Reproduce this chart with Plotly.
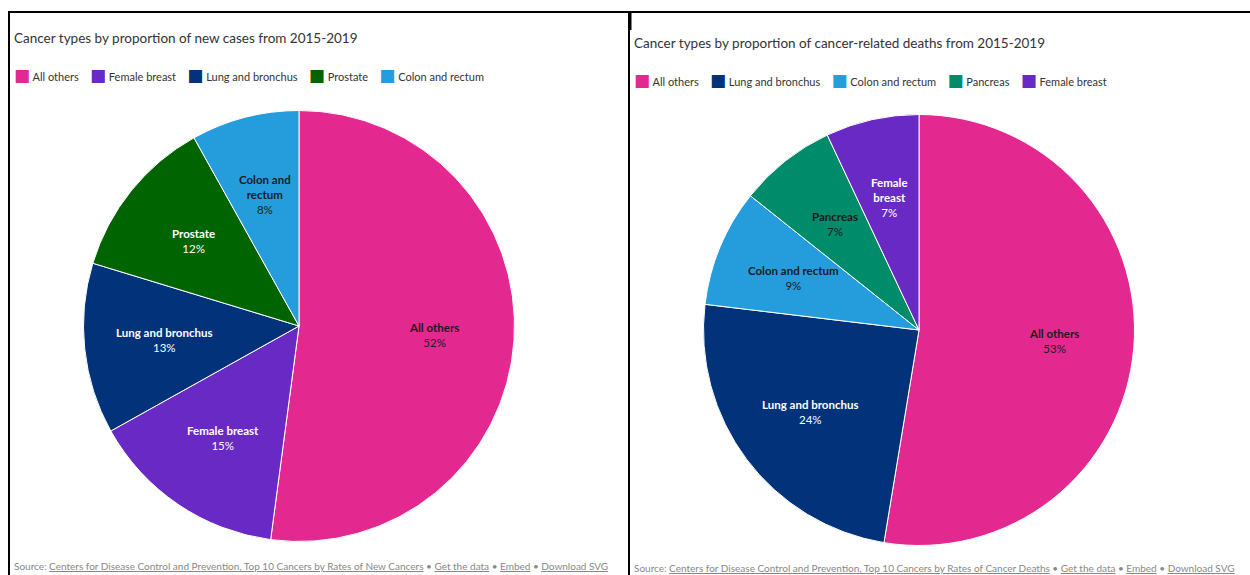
import math
import plotly.graph_objects as go

# ---- data ----
new_labels = ["All others", "Female breast", "Lung and bronchus", "Prostate", "Colon and rectum"]
new_display = ["All others", "Female breast", "Lung and bronchus", "Prostate", "Colon and<br>rectum"]
new_values = [52.1, 14.8, 12.8, 12.2, 8.1]
new_colors = ["#e3298f", "#6929c4", "#01327a", "#006400", "#259ddd"]
new_text_colors = ["#1a1a1a", "#ffffff", "#ffffff", "#ffffff", "#1a1a1a"]

death_labels = ["All others", "Lung and bronchus", "Colon and rectum", "Pancreas", "Female breast"]
death_display = ["All others", "Lung and bronchus", "Colon and rectum", "Pancreas", "Female<br>breast"]
death_values = [52.6, 24.3, 8.8, 7.3, 7.0]
death_colors = ["#e3298f", "#01327a", "#259ddd", "#008c6a", "#6929c4"]
death_text_colors = ["#1a1a1a", "#ffffff", "#1a1a1a", "#1a1a1a", "#ffffff"]

title_left = "Cancer types by proportion of new cases from 2015-2019"
title_right = "Cancer types by proportion of cancer-related deaths from 2015-2019"
source_name_left = "Centers for Disease Control and Prevention, Top 10 Cancers by Rates of New Cancers"
source_name_right = "Centers for Disease Control and Prevention, Top 10 Cancers by Rates of Cancer Deaths"
source_links = ["Get the data", "Embed", "Download SVG"]

FONT = "Lato"
W, H = 1250, 575

# pie geometry (pixels): centre x, centre y, radius
LEFT_PIE = (299, 326, 215.5)
RIGHT_PIE = (919, 330, 215.5)
LABEL_R = 0.63


def px_x(v):
    return v / W


def px_y(v):
    return 1 - v / H


def domain_of(geo):
    cx, cy, r = geo
    return dict(x=[px_x(cx - r), px_x(cx + r)], y=[px_y(cy + r), px_y(cy - r)])


def link(t):
    return ("<span style='text-decoration:underline;text-decoration-color:#a9d5f2'>"
            + t + "</span>")


def source_text(name):
    parts = [link(name)] + [link(t) for t in source_links]
    return "Source: " + " • ".join(parts)


def legend_text(labels, colors):
    items = []
    for lab, col in zip(labels, colors):
        items.append("<span style='color:%s;font-family:DejaVu Sans;font-size:17px'>■</span>"
                     "&nbsp;%s" % (col, lab))
    return "&nbsp;&nbsp;&nbsp;&nbsp;".join(items)


def slice_labels(values, display, text_colors, geo):
    cx, cy, r = geo
    total = float(sum(values))
    anns = []
    cum = 0.0
    for v, d, tc in zip(values, display, text_colors):
        mid = (cum + v / 2) / total * 2 * math.pi
        cum += v
        x = cx + LABEL_R * r * math.sin(mid)
        y = cy - LABEL_R * r * math.cos(mid)
        pct = round(v / total * 100)
        anns.append(dict(
            text="<b>%s</b><br>%d%%" % (d, pct), x=px_x(x), y=px_y(y),
            xref="paper", yref="paper", xanchor="center", yanchor="middle",
            showarrow=False, align="center",
            font=dict(family=FONT, size=11.5, color=tc)))
    return anns


fig = go.Figure()

fig.add_trace(go.Pie(
    labels=new_labels, values=new_values,
    sort=False, direction="clockwise", rotation=0,
    marker=dict(colors=new_colors, line=dict(color="white", width=1)),
    textinfo="none", domain=domain_of(LEFT_PIE),
    hoverinfo="label+percent", showlegend=False,
))

fig.add_trace(go.Pie(
    labels=death_labels, values=death_values,
    sort=False, direction="clockwise", rotation=0,
    marker=dict(colors=death_colors, line=dict(color="white", width=1)),
    textinfo="none", domain=domain_of(RIGHT_PIE),
    hoverinfo="label+percent", showlegend=False,
))

annotations = [
    dict(text=title_left, x=px_x(12), y=px_y(38), xref="paper", yref="paper",
         xanchor="left", yanchor="middle", showarrow=False,
         font=dict(family=FONT, size=13.5, color="#333333")),
    dict(text=title_right, x=px_x(632), y=px_y(43), xref="paper", yref="paper",
         xanchor="left", yanchor="middle", showarrow=False,
         font=dict(family=FONT, size=13.5, color="#333333")),
    dict(text=legend_text(new_labels, new_colors), x=px_x(12), y=px_y(75),
         xref="paper", yref="paper", xanchor="left", yanchor="middle", showarrow=False,
         font=dict(family=FONT, size=11, color="#333333")),
    dict(text=legend_text(death_labels, death_colors), x=px_x(632), y=px_y(80),
         xref="paper", yref="paper", xanchor="left", yanchor="middle", showarrow=False,
         font=dict(family=FONT, size=11, color="#333333")),
    dict(text=source_text(source_name_left), x=px_x(12), y=px_y(566), xref="paper", yref="paper",
         xanchor="left", yanchor="middle", showarrow=False,
         font=dict(family=FONT, size=10, color="#888888")),
    dict(text=source_text(source_name_right), x=px_x(632), y=px_y(568), xref="paper", yref="paper",
         xanchor="left", yanchor="middle", showarrow=False,
         font=dict(family=FONT, size=10, color="#888888")),
]
annotations += slice_labels(new_values, new_display, new_text_colors, LEFT_PIE)
annotations += slice_labels(death_values, death_display, death_text_colors, RIGHT_PIE)

shapes = [
    dict(type="line", xref="paper", yref="paper", x0=px_x(8), x1=px_x(1250), y0=px_y(12), y1=px_y(12),
         line=dict(color="black", width=2)),
    dict(type="line", xref="paper", yref="paper", x0=px_x(9), x1=px_x(9), y0=px_y(11), y1=0,
         line=dict(color="black", width=2)),
    dict(type="line", xref="paper", yref="paper", x0=px_x(629), x1=px_x(629), y0=px_y(11), y1=0,
         line=dict(color="black", width=2)),
    dict(type="line", xref="paper", yref="paper", x0=px_x(630.5), x1=px_x(630.5), y0=px_y(11), y1=px_y(30),
         line=dict(color="black", width=2)),
]

fig.update_layout(
    width=W, height=H, margin=dict(l=0, r=0, t=0, b=0),
    paper_bgcolor="white", plot_bgcolor="white",
    font=dict(family=FONT),
    annotations=annotations, shapes=shapes,
    showlegend=False,
)

fig.write_html("out.html")
